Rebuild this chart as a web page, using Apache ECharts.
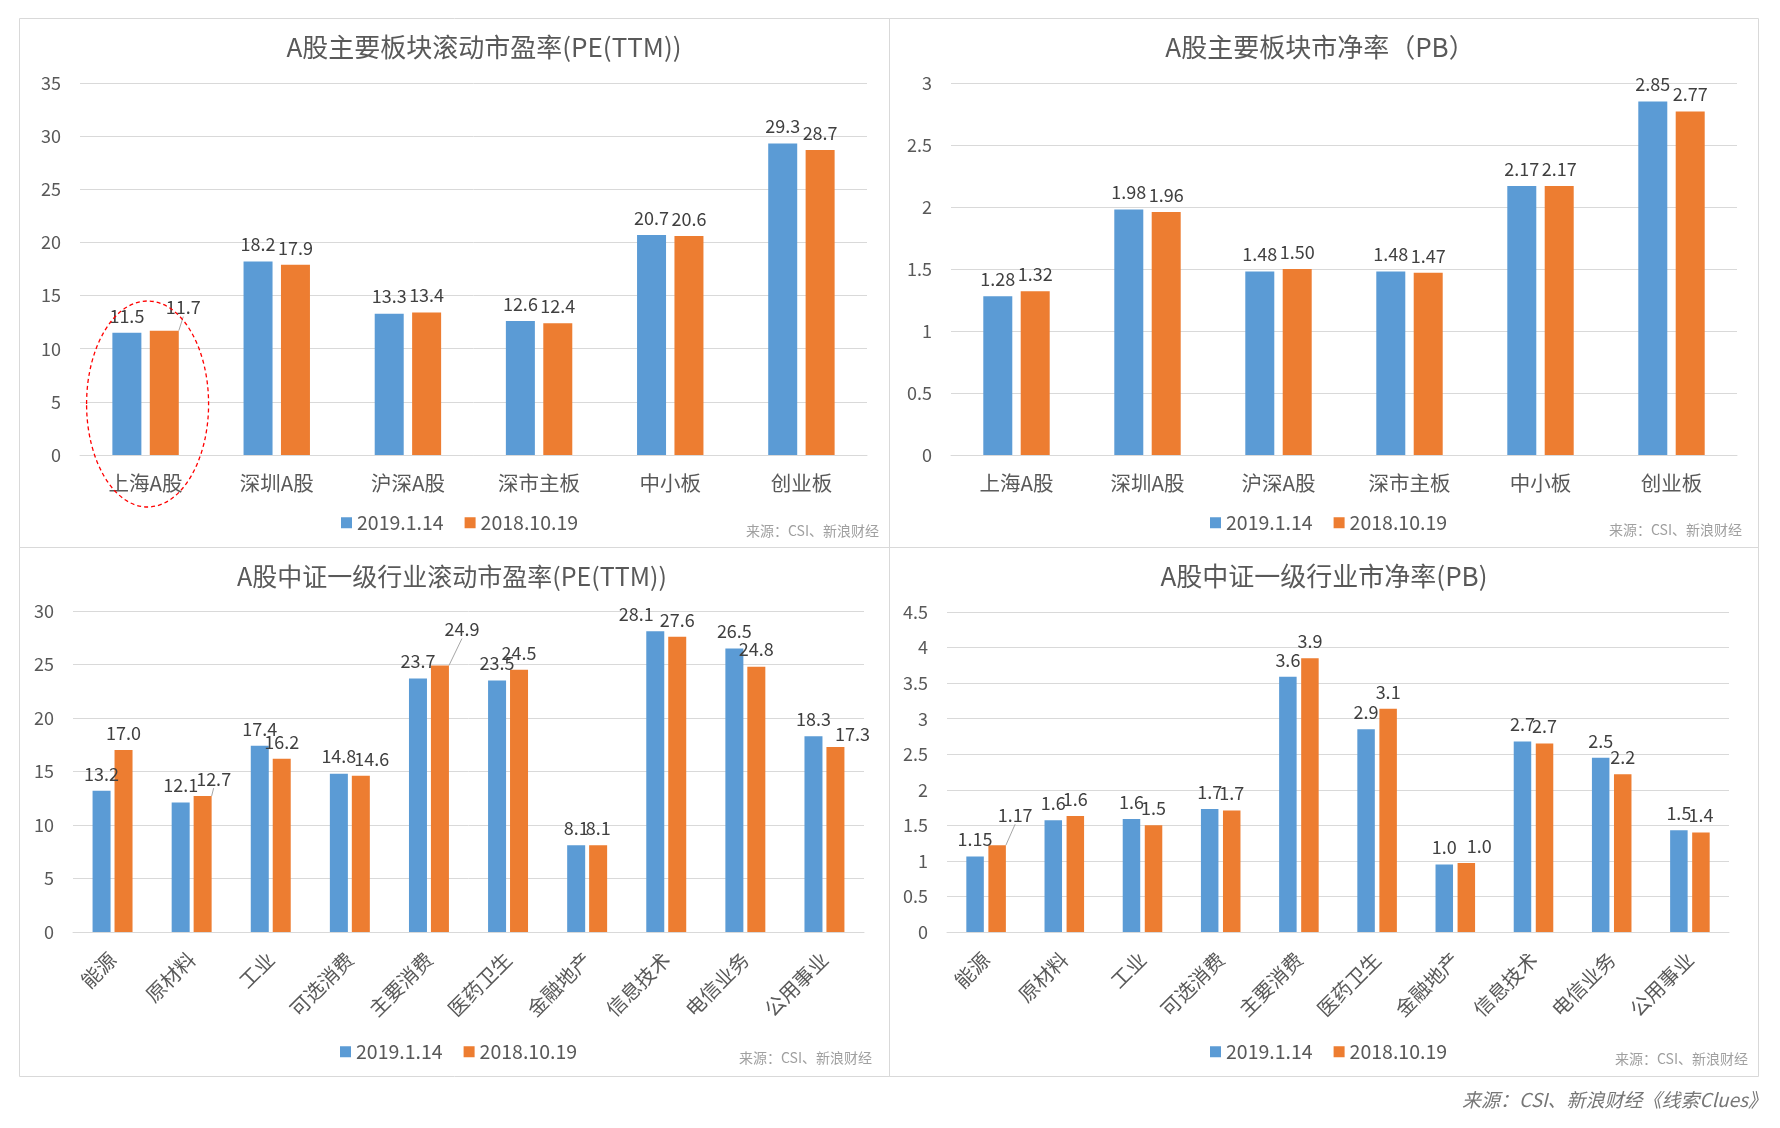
<!DOCTYPE html>
<html><head><meta charset="utf-8">
<script src="https://cdn.jsdelivr.net/npm/echarts@6/dist/echarts.min.js"></script>
<style>html,body{margin:0;padding:0;background:#fff}#c{width:1780px;height:1128px}</style>
</head><body><div id="c"></div>
<script>
// ---------------- data ----------------
const seriesNames = ['2019.1.14', '2018.10.19'];
const boardCats = ['上海A股', '深圳A股', '沪深A股', '深市主板', '中小板', '创业板'];
const boardPE_2019 = [11.5, 18.2, 13.3, 12.6, 20.7, 29.3];
const boardPE_2018 = [11.7, 17.9, 13.4, 12.4, 20.6, 28.7];
const boardPB_2019 = [1.28, 1.98, 1.48, 1.48, 2.17, 2.85];
const boardPB_2018 = [1.32, 1.96, 1.50, 1.47, 2.17, 2.77];
const industryCats = ['能源', '原材料', '工业', '可选消费', '主要消费', '医药卫生', '金融地产', '信息技术', '电信业务', '公用事业'];
const indPE_2019 = [13.2, 12.1, 17.4, 14.8, 23.7, 23.5, 8.1, 28.1, 26.5, 18.3];
const indPE_2018 = [17.0, 12.7, 16.2, 14.6, 24.9, 24.5, 8.1, 27.6, 24.8, 17.3];
const indPB_2019 = [1.06, 1.57, 1.59, 1.73, 3.59, 2.85, 0.95, 2.68, 2.45, 1.43];
const indPB_2018 = [1.22, 1.63, 1.50, 1.71, 3.85, 3.14, 0.97, 2.65, 2.22, 1.40];
const indPB_2019_labels = ['1.15', '1.6', '1.6', '1.7', '3.6', '2.9', '1.0', '2.7', '2.5', '1.5'];
const indPB_2018_labels = ['1.17', '1.6', '1.5', '1.7', '3.9', '3.1', '1.0', '2.7', '2.2', '1.4'];
const chartTitles = ['A股主要板块滚动市盈率(PE(TTM))', 'A股主要板块市净率（PB）', 'A股中证一级行业滚动市盈率(PE(TTM))', 'A股中证一级行业市净率(PB)'];
const yMax = [35, 3, 30, 4.5];
const yStep = [5, 0.5, 5, 0.5];
const panelSource = '来源：CSI、新浪财经';
const footerText = '来源：CSI、新浪财经《线索Clues》';
const highlightCategory = '上海A股';

// ---------------- style / layout ----------------
const BLUE = '#5B9BD5', ORANGE = '#ED7D31';
const TXT = '#595959', LBL = '#404040', GRIDC = '#d9d9d9';
const FONT = '"Noto Sans CJK SC", "Noto Sans", sans-serif';
const grids = [
  {left: 80, top: 83, width: 787, height: 372},
  {left: 951, top: 83, width: 786, height: 372},
  {left: 73, top: 611, width: 791, height: 321},
  {left: 947, top: 612, width: 782, height: 320}
];
const barStyle = [
  {w: 29, gap: '29%'}, {w: 29, gap: '29%'}, {w: 18, gap: '22%'}, {w: 17.5, gap: '26%'}
];
const titlePos = [[484, 47], [1320, 47], [452, 576], [1324, 576]];
const titleSize = [26, 26, 25, 26];
const legendPos = [[336, 508], [1205, 508], [335, 1037], [1205, 1037]];
const sourcePos = [[879, 531], [1742, 530], [872, 1058], [1748, 1059]];
const panels = [[19, 18, 870, 529], [889, 18, 869, 529], [19, 547, 870, 529], [889, 547, 869, 529]];
// label nudges [dx, dy, showLeaderLine] keyed by "chart-series"
const labelMoves = {
  '0-1': {0: [19, -6, true]},
  '2-1': {1: [11, 0, true], 3: [11, 0, false], 4: [22, -19, true], 9: [17, 4, false]},
  '2-0': {7: [-19, 0, false]},
  '3-1': {0: [18, -13, true], 6: [13, 0, false]}
};

const chartData = [
  [boardPE_2019, boardPE_2018],
  [boardPB_2019, boardPB_2018],
  [indPE_2019, indPE_2018],
  [indPB_2019, indPB_2018]
];
const fmt = [
  (v) => v.toFixed(1),
  (v) => v.toFixed(2),
  (v) => v.toFixed(1),
  null
];
const pbLabels = [indPB_2019_labels, indPB_2018_labels];

const series = [];
chartData.forEach((pair, ci) => {
  pair.forEach((vals, si) => {
    const moves = labelMoves[ci + '-' + si] || {};
    series.push({
      type: 'bar',
      name: seriesNames[si],
      xAxisIndex: ci, yAxisIndex: ci,
      barWidth: barStyle[ci].w,
      barGap: barStyle[ci].gap,
      itemStyle: {color: si === 0 ? BLUE : ORANGE},
      data: vals.map((v, i) => ({value: v, labelLine: {show: !!(moves[i] && moves[i][2])}})),
      label: {
        show: true, position: 'top', distance: 8,
        fontSize: 18, color: LBL, fontFamily: FONT,
        formatter: (p) => ci === 3 ? pbLabels[si][p.dataIndex] : fmt[ci](p.value)
      },
      labelLine: {show: false, lineStyle: {color: '#a6a6a6', width: 1}},
      labelLayout: (p) => {
        const m = moves[p.dataIndex];
        return m ? {dx: m[0], dy: m[1]} : {};
      },
      emphasis: {disabled: true}
    });
  });
});

const xAxes = grids.map((g, i) => ({
  type: 'category', gridIndex: i,
  data: i < 2 ? boardCats : industryCats,
  axisLine: {lineStyle: {color: GRIDC}},
  axisTick: {show: false},
  axisLabel: i < 2
    ? {fontSize: 20.5, color: TXT, margin: 18, fontFamily: FONT, interval: 0}
    : {fontSize: 20, color: TXT, margin: 24, rotate: 45, fontFamily: FONT, interval: 0}
}));
const yAxes = grids.map((g, i) => ({
  type: 'value', gridIndex: i, min: 0, max: yMax[i], interval: yStep[i],
  axisLine: {show: false}, axisTick: {show: false},
  splitLine: {lineStyle: {color: GRIDC}},
  axisLabel: {fontSize: 18, color: TXT, margin: 19, fontFamily: FONT}
}));
const legends = legendPos.map((p) => ({
  left: p[0], top: p[1], icon: 'rect', itemWidth: 11, itemHeight: 11, itemGap: 21,
  data: seriesNames, selectedMode: false,
  textStyle: {fontSize: 19.5, color: TXT, fontFamily: FONT}
}));

const chart = echarts.init(document.getElementById('c'), null, {renderer: 'canvas'});
chart.setOption({
  backgroundColor: '#fff',
  animation: false,
  grid: grids,
  xAxis: xAxes,
  yAxis: yAxes,
  legend: legends,
  series: series
});

// annotations
const graphics = [];
panels.forEach((r) => graphics.push({
  type: 'rect', silent: true, z: -1,
  shape: {x: r[0] + 0.5, y: r[1] + 0.5, width: r[2], height: r[3]},
  style: {fill: null, stroke: GRIDC, lineWidth: 1}
}));
chartTitles.forEach((t, i) => graphics.push({
  type: 'text', x: titlePos[i][0], y: titlePos[i][1], silent: true,
  style: {text: t, fontSize: titleSize[i], fill: TXT, fontFamily: FONT, textAlign: 'center', textVerticalAlign: 'middle'}
}));
sourcePos.forEach((p) => graphics.push({
  type: 'text', x: p[0], y: p[1], silent: true,
  style: {text: panelSource, fontSize: 14, fill: '#a0a0a0', fontFamily: FONT, textAlign: 'right', textVerticalAlign: 'middle'}
}));
graphics.push({
  type: 'text', x: 1767, y: 1100, silent: true,
  style: {text: footerText, fontSize: 19, fill: '#767676', fontFamily: FONT, fontStyle: 'italic', textAlign: 'right', textVerticalAlign: 'middle'}
});
const ctr = chart.convertToPixel({xAxisIndex: 0, yAxisIndex: 0}, [highlightCategory, 4.8]);
graphics.push({
  type: 'ellipse', silent: true, z: 100,
  shape: {cx: ctr[0] + 2, cy: ctr[1], rx: 61, ry: 103},
  style: {fill: null, stroke: '#FF0000', lineWidth: 1.3, lineDash: [4, 3]}
});
chart.setOption({graphic: graphics});
</script>
</body></html>
